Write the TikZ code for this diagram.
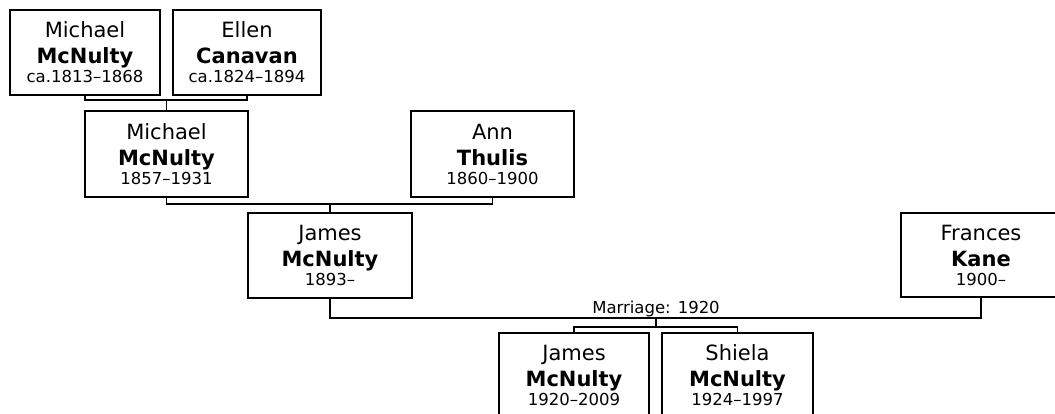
\documentclass[tikz,border=0pt]{standalone}
\usepackage{fontspec}
\setmainfont{DejaVu Sans}
\usetikzlibrary{shadows}
\newcommand{\pdates}[1]{{\fontsize{16.5}{19}\selectfont #1}}
\tikzset{
  person/.style={draw, line width=1.2pt, fill=white, inner sep=0pt, align=center,
    font=\fontsize{21}{26}\selectfont,
    drop shadow={shadow xshift=1.2pt, shadow yshift=-1.2pt, fill=black!60, opacity=1}},
  link/.style={draw, line width=1.3pt},
  marr/.style={font=\fontsize{16.5}{19}\selectfont, anchor=base, inner sep=0pt}
}
\begin{document}
\begin{tikzpicture}[x=1pt,y=-1pt]
\clip (0,0) rectangle (1055,414);
\fill[white] (0,0) rectangle (1055,414);
% generation 1
\node[person, minimum width=150pt, minimum height=85pt] (a) at (85,52.5) {Michael\\\textbf{McNulty}\\[-7pt]\pdates{ca.1813–1868}};
\node[person, minimum width=148pt, minimum height=85pt] (b) at (247,52.5) {Ellen\\\textbf{Canavan}\\[-7pt]\pdates{ca.1824–1894}};
% generation 2
\node[person, minimum width=163pt, minimum height=86pt] (c) at (166.5,154) {Michael\\\textbf{McNulty}\\[-7pt]\pdates{1857–1931}};
\node[person, minimum width=163pt, minimum height=86pt] (d) at (492.5,154) {Ann\\\textbf{Thulis}\\[-7pt]\pdates{1860–1900}};
% generation 3
\node[person, minimum width=164pt, minimum height=85pt] (e) at (330,255.5) {James\\\textbf{McNulty}\\[-7pt]\pdates{1893–}};
\node[person, minimum width=160pt, minimum height=84pt] (f) at (981,255) {Frances\\\textbf{Kane}\\[-7pt]\pdates{1900–}};
% generation 4
\node[person, minimum width=150pt, minimum height=85pt] (g) at (574,375.5) {James\\\textbf{McNulty}\\[-7pt]\pdates{1920–2009}};
\node[person, minimum width=151pt, minimum height=85pt] (h) at (737.5,375.5) {Shiela\\\textbf{McNulty}\\[-7pt]\pdates{1924–1997}};
% connectors
\coordinate (j1) at (166.5,100);
\draw[link] (a.south) |- (j1) -| (b.south);
\draw[link] (j1) -- (c.north);
\coordinate (j2) at (330,204);
\draw[link] (c.south) |- (j2) -| (d.south);
\draw[link] (j2) -- (e.north);
\coordinate (j3) at (656,318);
\draw[link] (e.south) |- (j3) -| (f.south);
\node[marr] (m) at (656,313.5) {Marriage: 1920};
\coordinate (j4) at (656,327);
\draw[link] (j3) -- (j4);
\draw[link] (g.north) |- (j4) -| (h.north);
\end{tikzpicture}
\end{document}
